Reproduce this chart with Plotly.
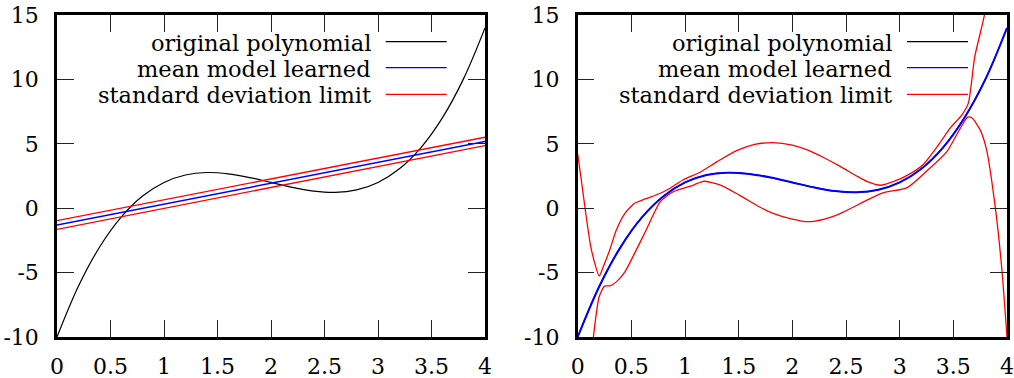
import plotly.graph_objects as go

W, H = 1014, 378

# ---------------- data ----------------
poly_x = [0.0, 0.2, 0.4, 0.6, 0.8, 1.0, 1.2, 1.4, 1.6, 1.8, 2.0,
          2.2, 2.4, 2.6, 2.8, 3.0, 3.2, 3.4, 3.6, 3.8, 4.0]
poly_y = [-10.0, -6.06, -2.99, -0.69, 0.94, 2.0, 2.58, 2.77, 2.67, 2.38, 2.0,
          1.62, 1.33, 1.23, 1.42, 2.0, 3.06, 4.69, 6.99, 10.06, 14.0]

left_mean_x = [0.0, 4.0]
left_mean_y = [-1.30, 5.17]
left_upper_y = [-0.97, 5.51]
left_lower_y = [-1.64, 4.86]

right_mean_x = poly_x
right_mean_y = [-10.0, -6.10, -3.02, -0.70, 0.93, 2.0, 2.58, 2.76, 2.66, 2.38, 2.0,
                1.62, 1.33, 1.24, 1.43, 2.0, 3.05, 4.67, 6.97, 10.02, 14.0]

right_upper_x = [0.0, 0.04, 0.08, 0.12, 0.16, 0.20, 0.24, 0.30, 0.36, 0.44, 0.53,
                 0.63, 0.77, 0.86, 0.98, 1.14, 1.30, 1.48, 1.65, 1.82, 2.00,
                 2.14, 2.30, 2.45, 2.60, 2.70, 2.82, 2.94, 3.07, 3.22, 3.35,
                 3.47, 3.58, 3.64, 3.70, 3.79, 3.85]
right_upper_y = [4.2, 1.8, -0.7, -2.9, -4.3, -5.27, -4.5, -3.2, -1.7, -0.4, 0.38,
                 0.72, 1.16, 1.55, 2.19, 2.79, 3.62, 4.47, 4.95, 5.09, 4.90,
                 4.53, 3.9, 3.23, 2.5, 2.06, 1.78, 2.06, 2.55, 3.4, 4.78,
                 6.21, 7.25, 8.16, 11.78, 15.0, 18.5]

right_lower_x = [0.146, 0.20, 0.25, 0.30, 0.36, 0.44, 0.53, 0.63, 0.77, 0.89,
                 1.08, 1.17, 1.33, 1.51, 1.70, 1.82, 2.00, 2.14, 2.30, 2.45,
                 2.70, 2.85, 3.07, 3.28, 3.44, 3.565, 3.633, 3.674, 3.75, 3.81,
                 3.89, 3.95, 4.0]
right_lower_y = [-10.0, -6.88, -6.05, -6.03, -5.72, -4.94, -3.51, -1.83, 0.51, 1.28,
                 1.8, 2.09, 1.8, 1.0, 0.07, -0.4, -0.85, -1.05, -0.85, -0.4,
                 0.64, 1.2, 1.6, 3.1, 4.4, 6.21, 7.07, 7.0, 6.08, 4.53,
                 0.12, -4.55, -10.0]

x_tickvals = [0, 0.5, 1, 1.5, 2, 2.5, 3, 3.5, 4]
x_ticktext = ["0", "0.5", "1", "1.5", "2", "2.5", "3", "3.5", "4"]
y_tickvals = [-10, -5, 0, 5, 10, 15]
y_ticktext = ["-10", "-5", "0", "5", "10", "15"]

legend_labels = ["original polynomial", "mean model learned", "standard deviation limit"]
legend_colors = ["black", "#0000ff", "#ff0000"]

# ---------------- figure ----------------
BLACK, BLUE, RED = "black", "#0000ff", "#ff0000"
fig = go.Figure()

def add(x, y, color, width, ax, shape="spline", smoothing=0.8):
    fig.add_trace(go.Scatter(x=x, y=y, mode="lines",
                             line=dict(color=color, width=width, shape=shape,
                                       smoothing=smoothing if shape == "spline" else None),
                             xaxis="x" + ax, yaxis="y" + ax, showlegend=False,
                             hoverinfo="skip"))

# left panel
add(poly_x, poly_y, BLACK, 1.2, "", smoothing=1.0)
add(left_mean_x, left_mean_y, BLUE, 1.5, "", shape="linear")
add(left_mean_x, left_upper_y, RED, 1.3, "", shape="linear")
add(left_mean_x, left_lower_y, RED, 1.3, "", shape="linear")

# right panel
add(poly_x, poly_y, BLACK, 1.2, "2", smoothing=1.0)
add(right_mean_x, right_mean_y, BLUE, 2.0, "2", smoothing=1.0)
add(right_upper_x, right_upper_y, RED, 1.3, "2", smoothing=0.6)
add(right_lower_x, right_lower_y, RED, 1.3, "2", smoothing=0.6)

ML, MR, MT, MB = 57, 7, 15, 41
PW, PH = W - ML - MR, H - MT - MB

def fx(p):
    return (p - ML) / PW

def fy(p):
    return 1 - (p - MT) / PH

SERIF = "DejaVu Serif"
TICKFONT = dict(family=SERIF, size=22, color="black")

xcommon = dict(range=[0, 4], tickvals=x_tickvals, ticktext=x_ticktext,
               showline=True, linecolor="black", linewidth=2.5, mirror="ticks",
               ticks="inside", ticklen=17, tickwidth=1.3, tickcolor="#222",
               showgrid=False, zeroline=False, tickfont=TICKFONT,
               ticklabelstandoff=8, fixedrange=True, automargin=False)
ycommon = dict(range=[-10, 15], tickvals=y_tickvals, ticktext=y_ticktext,
               showline=True, linecolor="black", linewidth=2.5, mirror="ticks",
               ticks="inside", ticklen=17, tickwidth=1.3, tickcolor="#222",
               showgrid=False, zeroline=False, tickfont=TICKFONT,
               ticklabelstandoff=11, fixedrange=True, automargin=False)

fig.update_layout(
    width=W, height=H,
    margin=dict(l=ML, r=MR, t=MT, b=MB, pad=0, autoexpand=False),
    paper_bgcolor="white", plot_bgcolor="white",
    showlegend=False,
    xaxis=dict(domain=[0, fx(485.0)], anchor="y", **xcommon),
    yaxis=dict(domain=[0, 1], anchor="x", **ycommon),
    xaxis2=dict(domain=[fx(577.7), 1], anchor="y2", **xcommon),
    yaxis2=dict(domain=[0, 1], anchor="x2", **ycommon),
)

# manual legends (text left of sample line), one per panel
LEGFONT = dict(family=SERIF, size=22.5, color="black")
line_ys = [41.7, 67.7, 94.3]
panels = [(371.7, 385.7, 446.7), (893.0, 907.0, 968.0)]
for text_right, l0, l1 in panels:
    for lab, col, ly in zip(legend_labels, legend_colors, line_ys):
        fig.add_annotation(x=fx(text_right), y=fy(ly + 1), xref="paper", yref="paper",
                           text=lab, showarrow=False, xanchor="right", yanchor="middle",
                           font=LEGFONT, borderpad=0)
        fig.add_shape(type="line", xref="paper", yref="paper",
                      x0=fx(l0), x1=fx(l1), y0=fy(ly), y1=fy(ly),
                      line=dict(color=col, width=1.3))

fig.write_html("out.html")
